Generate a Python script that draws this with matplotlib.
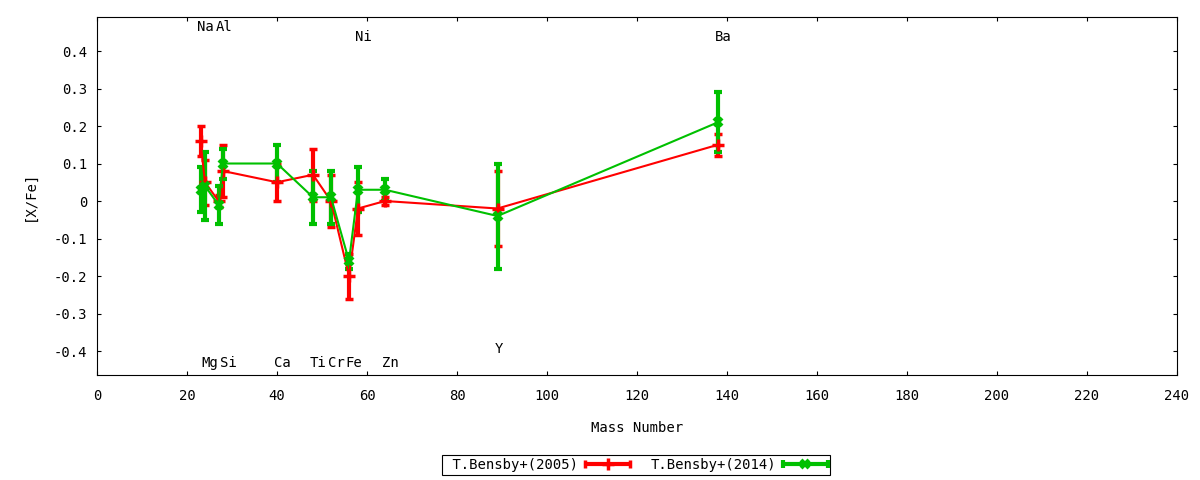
import numpy as np
import matplotlib
matplotlib.use("Agg")
import matplotlib.pyplot as plt
from matplotlib.container import ErrorbarContainer
from matplotlib.legend_handler import HandlerErrorbar
from matplotlib.ticker import FuncFormatter, MultipleLocator

plt.rcParams["font.family"] = ["DejaVu Sans Mono", "DejaVu Sans"]
plt.rcParams["font.size"] = 10

# 元素と質量数
elements = ["Na", "Mg", "Al", "Si", "Ca", "Ti", "Cr", "Fe", "Ni", "Zn", "Y", "Ba"]
mass = [23, 24, 27, 28, 40, 48, 52, 56, 58, 64, 89, 138]

# T.Bensby+(2005)
b05 = [0.16, 0.05, 0.00, 0.08, 0.05, 0.07, 0.00, -0.20, -0.02, 0.00, -0.02, 0.15]
b05_err = [0.04, 0.06, 0.015, 0.07, 0.05, 0.07, 0.07, 0.06, 0.07, 0.01, 0.10, 0.03]

# T.Bensby+(2014)
b14 = [0.03, 0.04, -0.01, 0.10, 0.10, 0.01, 0.01, -0.16, 0.03, 0.03, -0.04, 0.21]
b14_err = [0.06, 0.09, 0.05, 0.04, 0.05, 0.07, 0.07, 0.02, 0.06, 0.03, 0.14, 0.08]

# 元素ラベルの位置 (上段 / 下段)
label_y = [0.465, -0.432, 0.465, -0.432, -0.432, -0.432, -0.432, -0.432,
           0.438, -0.432, -0.395, 0.438]

fig = plt.figure(figsize=(12, 4.8), dpi=100)
ax = fig.add_axes([97 / 1200, 1 - 375 / 480, 1080 / 1200, 358 / 480])

eb05 = ax.errorbar(mass, b05, yerr=b05_err, color="#ff0000", lw=1.5,
                   marker="+", ms=9, mew=2.5, elinewidth=3, capsize=3,
                   capthick=2.5, label="T.Bensby+(2005)")
eb14 = ax.errorbar(mass, b14, yerr=b14_err, color="#00c000", lw=1.5,
                   marker="x", ms=6, mew=3, elinewidth=3, capsize=3,
                   capthick=2.5, label="T.Bensby+(2014)")

for el, m, y in zip(elements, mass, label_y):
    ax.text(m - 0.7, y, el, ha="left", va="center")

ax.set_xlim(0, 240)
ax.set_ylim(-0.464, 0.4907)
ax.xaxis.set_major_locator(MultipleLocator(20))
ax.set_yticks(np.arange(-0.4, 0.41, 0.1))
ax.yaxis.set_major_formatter(FuncFormatter(lambda v, p: "0" if abs(v) < 1e-9 else "%.1f" % v))
ax.tick_params(direction="in", length=3, width=0.8, top=True, right=True)
ax.tick_params(axis="x", pad=10)
ax.tick_params(axis="y", pad=7)
for s in ax.spines.values():
    s.set_linewidth(0.8)

ax.set_xlabel("Mass Number", labelpad=13)
ax.set_ylabel("[X/Fe]", labelpad=12)

# 凡例 (横向きのエラーバー)
h05 = ErrorbarContainer((eb05.lines[0], eb05.lines[1], eb05.lines[2]), has_xerr=True, has_yerr=False)
h14 = ErrorbarContainer((eb14.lines[0], eb14.lines[1], eb14.lines[2]), has_xerr=True, has_yerr=False)
leg = fig.legend([h05, h14], [" T.Bensby+(2005)", "T.Bensby+(2014)"],
                 loc="center", bbox_to_anchor=(636 / 1200, 1 - 465 / 480),
                 ncol=2, markerfirst=False, fancybox=False, edgecolor="black",
                 framealpha=1, borderpad=0.2, handlelength=3.2, handletextpad=0.5,
                 columnspacing=1.5, borderaxespad=0,
                 handler_map={ErrorbarContainer: HandlerErrorbar(xerr_size=1.6, numpoints=1)})
leg.get_frame().set_linewidth(0.8)

plt.savefig("out.png")
